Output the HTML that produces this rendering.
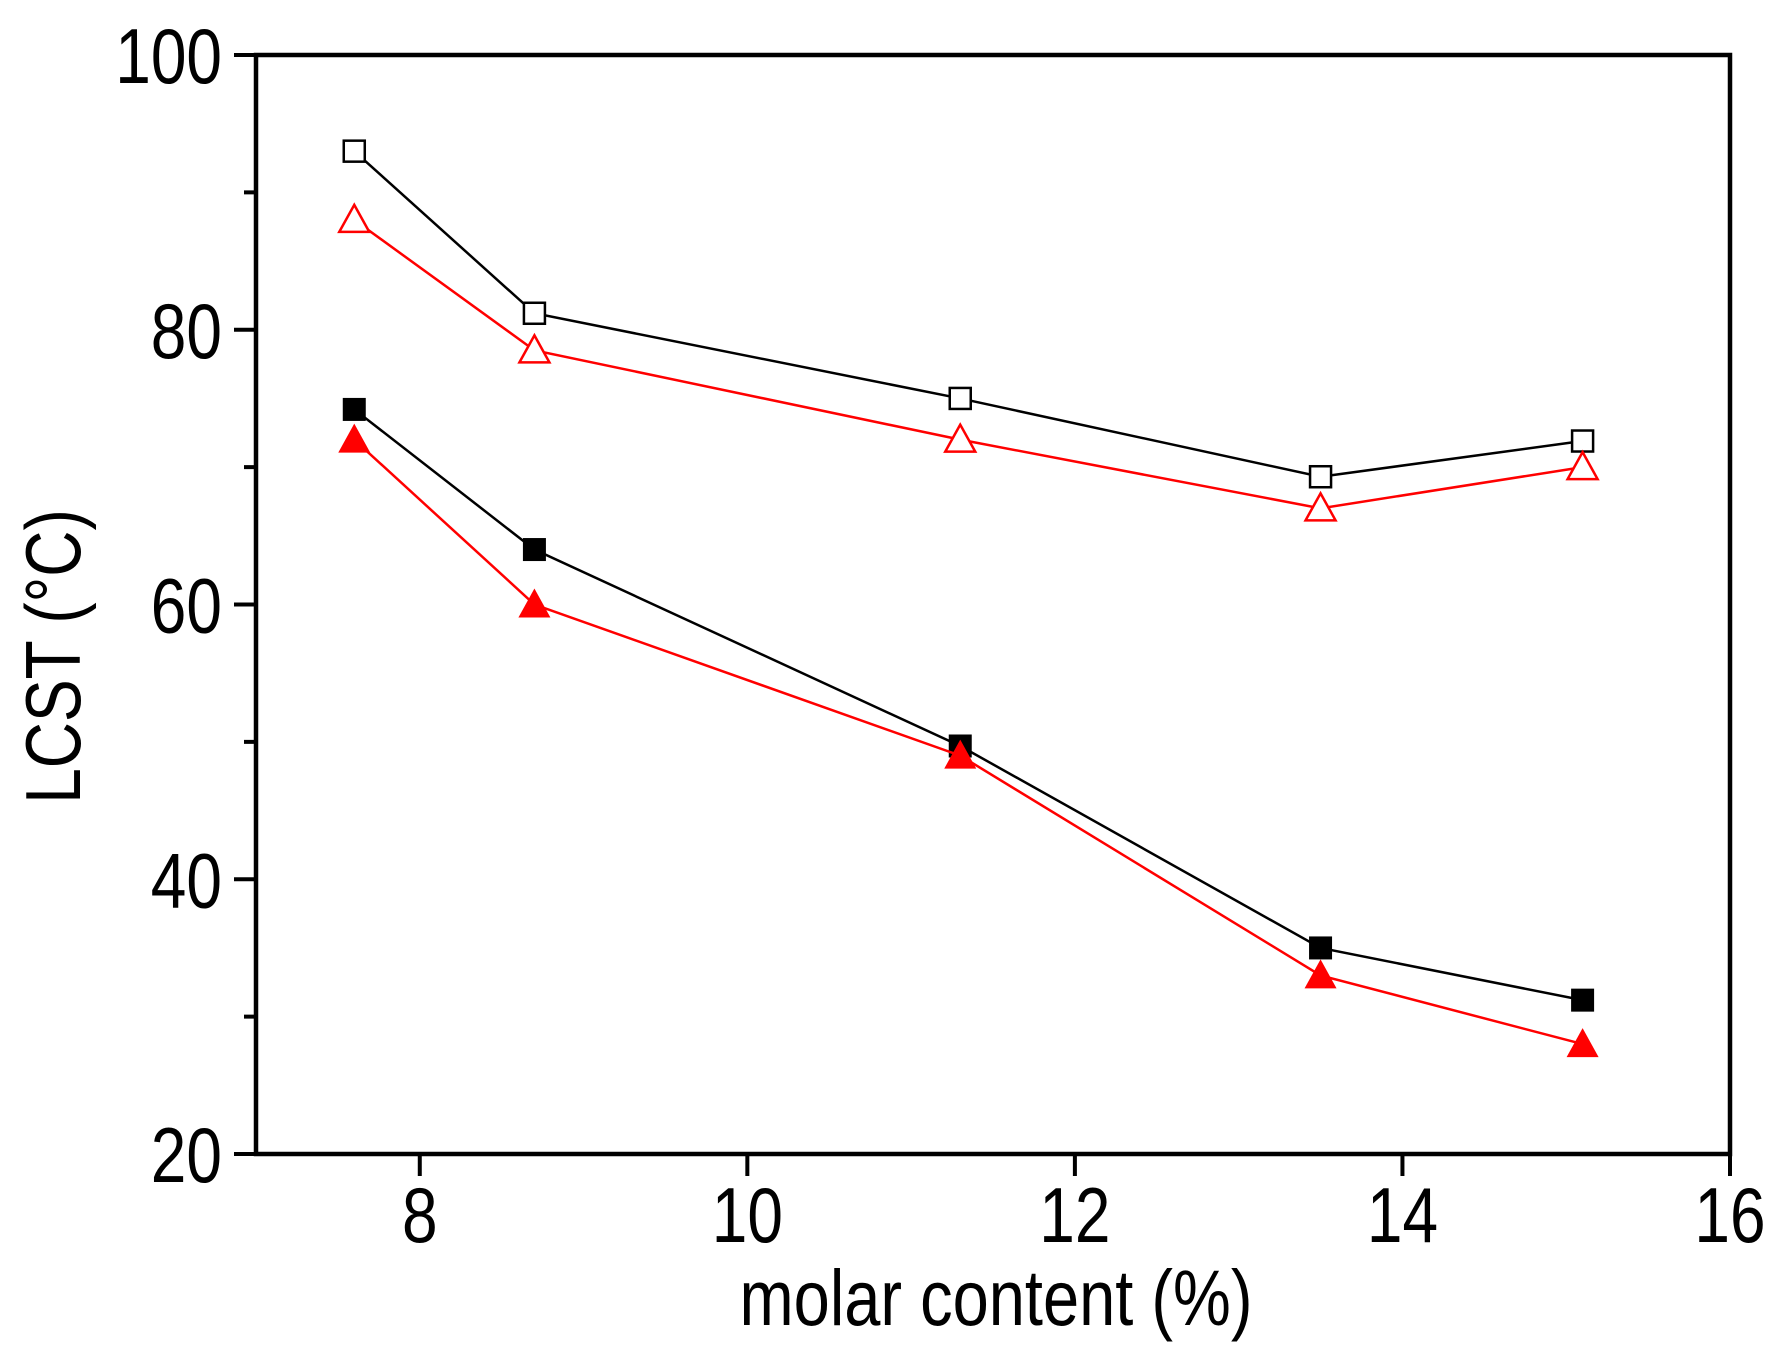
<!DOCTYPE html>
<html><head><meta charset="utf-8"><style>
html,body{margin:0;padding:0;background:#fff;}
svg{display:block;}
text{font-family:"Liberation Sans",Arial,sans-serif;fill:#000;}
</style></head><body>
<svg id="chart" width="1782" height="1357" viewBox="0 0 1782 1357" xmlns="http://www.w3.org/2000/svg">
</svg>
<script>
const xValues = [7.6, 8.7, 11.3, 13.5, 15.1];
const openSquares = [93, 81.2, 75, 69.3, 71.9];
const openTriangles = [88, 78.5, 72, 67, 70];
const filledSquares = [74.2, 64, 49.7, 35, 31.2];
const filledTriangles = [72, 60, 49, 33, 28];
const xTicks = [8, 10, 12, 14, 16];
const yTicks = [20, 40, 60, 80, 100];
const yMinorTicks = [30, 50, 70, 90];

const L = 256, R = 1730, T = 55, B = 1154;
const xMin = 7, xMax = 16, yMin = 20, yMax = 100;
const sx = v => L + (v - xMin) / (xMax - xMin) * (R - L);
const sy = v => B - (v - yMin) / (yMax - yMin) * (B - T);
const svg = document.getElementById('chart');
const NS = 'http://www.w3.org/2000/svg';
function mk(tag, attrs) {
  const e = document.createElementNS(NS, tag);
  for (const k in attrs) e.setAttribute(k, attrs[k]);
  svg.appendChild(e);
  return e;
}

let frame = mk('rect', {x: L, y: T, width: R - L, height: B - T, fill: 'none', stroke: '#000', 'stroke-width': 4.5});



xTicks.forEach(v => {
  const t = mk('line', {x1: sx(v), x2: sx(v), y1: B, y2: B + 22, stroke: '#000', 'stroke-width': 4});
  
  
  const lb = mk('text', {x: 0, y: 0, 'font-size': 64, 'text-anchor': 'middle',
    transform: `translate(${sx(v)},${B + 88}) scale(1,1.22)`});
  lb.textContent = v;
  
  
});
yTicks.forEach(v => {
  const t = mk('line', {x1: L - 22, x2: L, y1: sy(v), y2: sy(v), stroke: '#000', 'stroke-width': 4});
  
  
  const lb = mk('text', {x: 0, y: 0, 'font-size': 64, 'text-anchor': 'end',
    transform: `translate(${L - 34},${sy(v) + 28}) scale(1,1.22)`});
  lb.textContent = v;
  
  
});
yMinorTicks.forEach(v => {
  const t = mk('line', {x1: L - 12, x2: L, y1: sy(v), y2: sy(v), stroke: '#000', 'stroke-width': 4});
  
  
});

let xt = mk('text', {x: 0, y: 0, 'font-size': 65, 'text-anchor': 'middle',
  transform: `translate(${(L + R) / 2 + 3},1325) scale(1,1.22)`});
xt.textContent = 'molar content (%)';


let yt = mk('text', {x: 0, y: 0, 'font-size': 64, 'text-anchor': 'middle',
  transform: 'translate(80,' + ((T + B) / 2 + 52) + ') rotate(-90) scale(1,1.22)'});
yt.textContent = 'LCST (°C)';



function series(vals, color, shape, filled, name) {
  const pts = vals.map((v, i) => sx(xValues[i]) + ',' + sy(v)).join(' ');
  const pl = mk('polyline', {points: pts, fill: 'none', stroke: color, 'stroke-width': 2.5});
  
  
  vals.forEach((v, i) => {
    const cx = sx(xValues[i]), cy = sy(v);
    let m;
    if (shape === 'square') {
      const s = filled ? 23 : 21;
      m = mk('rect', {x: cx - s / 2, y: cy - s / 2, width: s, height: s,
        fill: filled ? color : '#fff', stroke: color, 'stroke-width': filled ? 0 : 2.5});
    } else {
      const h = filled ? 14 : 13;
      m = mk('polygon', {points: `${cx},${cy - h - 2} ${cx - h - 2},${cy + h - 1} ${cx + h + 2},${cy + h - 1}`,
        fill: filled ? color : '#fff', stroke: color, 'stroke-width': filled ? 0 : 2.5});
    }
    
    
  });
}
series(openSquares, '#000', 'square', false, 'open-square-series');
series(openTriangles, '#ff0000', 'triangle', false, 'open-triangle-series');
series(filledSquares, '#000', 'square', true, 'filled-square-series');
series(filledTriangles, '#ff0000', 'triangle', true, 'filled-triangle-series');
</script>
</body></html>
